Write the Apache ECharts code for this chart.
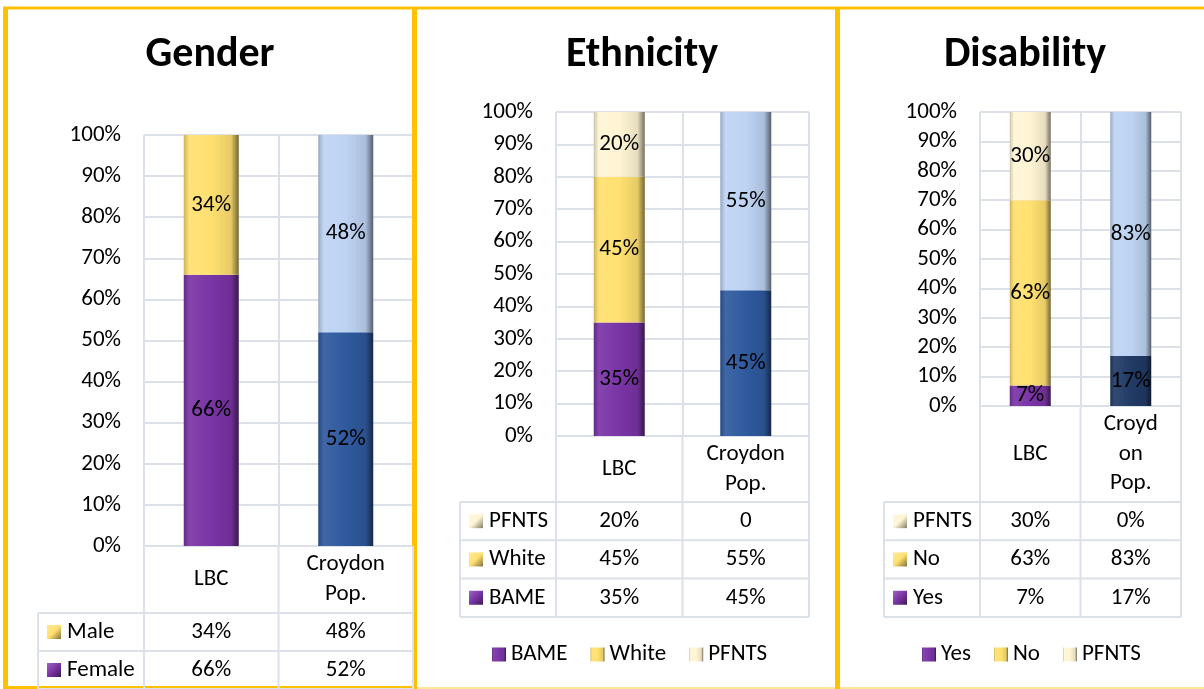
<!DOCTYPE html>
<html>
<head>
    <meta charset="utf-8"/>
    <title>Gender / Ethnicity / Disability</title>
    <script src="https://cdn.jsdelivr.net/npm/echarts@6/dist/echarts.min.js"></script>
    <style>
        body { margin: 0; background: #fff; }
    </style>
</head>
<body>

<div id="main" style="width: 1204px;height:689px;"></div>

<script>
    // data
    var genderCats = ['LBC', 'Croydon\nPop.'];
    var genderFemale = [66, 52];
    var genderMale = [34, 48];

    var ethCats = ['LBC', 'Croydon\nPop.'];
    var ethBame = [35, 45];
    var ethWhite = [45, 55];
    var ethPfnts = [20, 0];

    var disCats = ['LBC', 'Croyd\non\nPop.'];
    var disYes = [7, 17];
    var disNo = [63, 83];
    var disPfnts = [30, 0];

    var yTicks = [0, 100, 10];

    // colours
    var PURPLE = '#7A34A6', YELLOW = '#FFE070', CREAM = '#FFF5D4';
    var LIGHTBLUE = '#BED3F3', BLUE = '#2F5A9E', NAVY = '#213B66';
    var GRID = '#DCE0E8';
    var FONT = 'Carlito, Lato, sans-serif';
    var FS = 23;

    function shade(hex, p) {
        var n = parseInt(hex.slice(1), 16);
        var c = [(n >> 16) & 255, (n >> 8) & 255, n & 255].map(function (v) {
            v = p < 0 ? v * (1 + p) : v + (255 - v) * p;
            return Math.round(v);
        });
        return 'rgb(' + c.join(',') + ')';
    }

    // bevel-ish look like the excel bars
    function bevel(base) {
        return {
            type: 'linear', x: 0, y: 0, x2: 1, y2: 0,
            colorStops: [
                {offset: 0, color: shade(base, -0.2)},
                {offset: 0.1, color: shade(base, 0.08)},
                {offset: 0.5, color: base},
                {offset: 0.86, color: shade(base, -0.1)},
                {offset: 1, color: shade(base, -0.55)}
            ]
        };
    }

    function keyIcon(base) {
        return {
            type: 'linear', x: 0, y: 0, x2: 1, y2: 1,
            colorStops: [
                {offset: 0, color: shade(base, 0.25)},
                {offset: 0.5, color: base},
                {offset: 1, color: shade(base, -0.5)}
            ]
        };
    }

    var panels = [
        {
            title: 'Gender', titleX: 210, left: 144, right: 413, top: 135, bottom: 546,
            catBottom: 613, rowH: 38, tableLeft: 38, barWidth: 55, catMargin: 33, zeroText: '0%',
            cats: genderCats,
            series: [
                {name: 'Female', data: genderFemale, color: PURPLE, other: BLUE},
                {name: 'Male', data: genderMale, color: YELLOW, other: LIGHTBLUE}
            ]
        },
        {
            title: 'Ethnicity', titleX: 642, left: 556, right: 809, top: 112, bottom: 436,
            catBottom: 502, rowH: 38.3, tableLeft: 460, barWidth: 51, catMargin: 33, zeroText: '0',
            cats: ethCats, legendLeft: 492,
            series: [
                {name: 'BAME', data: ethBame, color: PURPLE, other: BLUE},
                {name: 'White', data: ethWhite, color: YELLOW, other: LIGHTBLUE},
                {name: 'PFNTS', data: ethPfnts, color: CREAM, other: CREAM}
            ]
        },
        {
            title: 'Disability', titleX: 1025, left: 980, right: 1181, top: 112, bottom: 406,
            catBottom: 502, rowH: 38.3, tableLeft: 884, barWidth: 41, catMargin: 48, zeroText: '0%',
            cats: disCats, legendLeft: 922,
            series: [
                {name: 'Yes', data: disYes, color: PURPLE, other: NAVY},
                {name: 'No', data: disNo, color: YELLOW, other: LIGHTBLUE},
                {name: 'PFNTS', data: disPfnts, color: CREAM, other: CREAM}
            ]
        }
    ];

    var grids = [], xAxes = [], yAxes = [], series = [], legends = [];
    var graphics = [];

    // panel borders
    var GOLD = '#FFC000', PALE = '#FFE699';
    function line(x1, y1, x2, y2, color, w) {
        graphics.push({type: 'line', shape: {x1: x1, y1: y1, x2: x2, y2: y2},
            style: {stroke: color, lineWidth: w}, z: 10});
    }
    line(3, 8, 1204, 8, GOLD, 3);
    line(5.5, 7, 5.5, 689, GOLD, 5);
    line(414.5, 7, 414.5, 689, GOLD, 5);
    line(837.5, 7, 837.5, 689, GOLD, 5);
    line(3, 687.5, 412, 687.5, GOLD, 3);
    line(417, 688, 835, 688, PALE, 2);
    line(840, 688, 1204, 688, PALE, 2);

    panels.forEach(function (p, i) {
        var w = p.right - p.left;
        grids.push({left: p.left, top: p.top, width: w, height: p.bottom - p.top});
        xAxes.push({
            type: 'category', gridIndex: i, data: p.cats,
            axisLine: {show: false}, axisTick: {show: false},
            splitLine: {show: true, interval: 0, lineStyle: {color: GRID, width: 2}},
            axisLabel: {
                interval: 0, margin: p.catMargin, verticalAlign: 'middle',
                fontSize: FS, lineHeight: 29.5, color: '#000', fontFamily: FONT
            }
        });
        yAxes.push({
            type: 'value', gridIndex: i, min: yTicks[0], max: yTicks[1], interval: yTicks[2],
            axisLine: {show: false}, axisTick: {show: false},
            splitLine: {lineStyle: {color: GRID, width: 2}},
            axisLabel: {
                formatter: '{value}%', margin: 23, fontSize: FS,
                color: '#000', fontFamily: FONT
            }
        });
        p.series.forEach(function (s) {
            series.push({
                name: s.name, type: 'bar', stack: 'p' + i,
                xAxisIndex: i, yAxisIndex: i, barWidth: p.barWidth,
                itemStyle: {color: bevel(s.color)},
                data: s.data.map(function (v, k) {
                    return k === 0 ? v : {value: v, itemStyle: {color: bevel(s.other)}};
                }),
                label: {
                    show: true, position: 'inside', fontSize: FS, color: '#000',
                    fontFamily: FONT,
                    formatter: function (d) { return d.value ? d.value + '%' : ''; }
                }
            });
        });

        graphics.push({
            type: 'text', x: p.titleX, y: 55,
            style: {text: p.title, align: 'center', verticalAlign: 'middle',
                font: 'bold 42px ' + FONT, fill: '#000'}
        });

        // data table under the axis
        var rows = p.series.slice().reverse();
        var tableBottom = p.catBottom + rows.length * p.rowH;
        var mid = p.left + w / 2;
        [p.left, mid, p.right].forEach(function (x) {
            line(x, p.bottom, x, tableBottom, GRID, 2);
        });
        line(p.tableLeft, p.catBottom, p.tableLeft, tableBottom, GRID, 2);
        for (var r = 0; r <= rows.length; r++) {
            var yy = p.catBottom + r * p.rowH;
            line(p.tableLeft, yy, p.right, yy, GRID, 2);
        }
        rows.forEach(function (s, r) {
            var cy = p.catBottom + (r + 0.5) * p.rowH;
            graphics.push({
                type: 'rect', shape: {x: p.tableLeft + 9, y: cy - 7, width: 14, height: 14},
                style: {fill: keyIcon(s.color)}
            });
            graphics.push({
                type: 'text', x: p.tableLeft + 29, y: cy,
                style: {text: s.name, verticalAlign: 'middle', font: FS + 'px ' + FONT, fill: '#000'}
            });
            s.data.forEach(function (v, k) {
                graphics.push({
                    type: 'text', x: p.left + w * (k + 0.5) / 2, y: cy,
                    style: {text: v === 0 ? p.zeroText : v + '%', align: 'center',
                        verticalAlign: 'middle', font: FS + 'px ' + FONT, fill: '#000'}
                });
            });
        });

        if (p.legendLeft) {
            legends.push({
                data: p.series.map(function (s) { return s.name; }),
                left: p.legendLeft, top: 643, padding: 0,
                itemWidth: 14, itemHeight: 14, itemGap: 23,
                icon: 'rect', selectedMode: false,
                textStyle: {fontSize: FS, color: '#000', fontFamily: FONT}
            });
        }
    });

    var myChart = echarts.init(document.getElementById('main'));
    myChart.setOption({
        animation: false,
        textStyle: {fontFamily: FONT},
        grid: grids,
        xAxis: xAxes,
        yAxis: yAxes,
        legend: legends,
        series: series,
        graphic: graphics
    });
</script>
</body>
</html>
